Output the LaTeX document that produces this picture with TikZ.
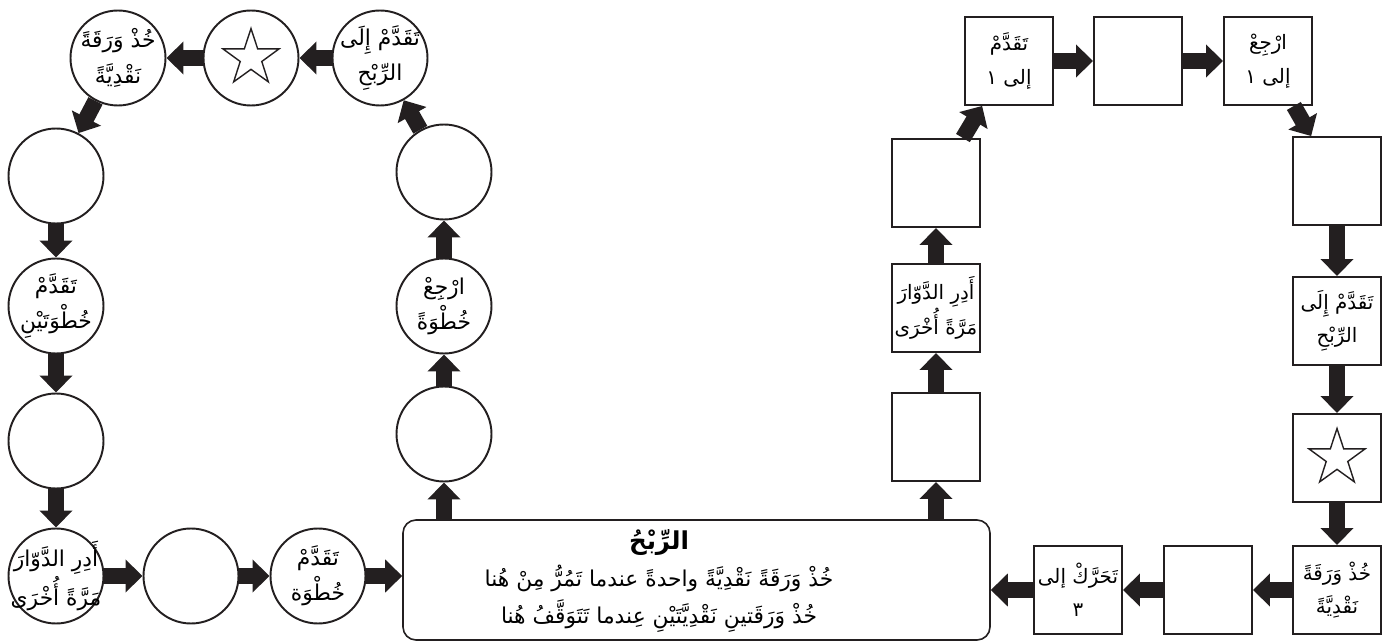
\documentclass[tikz,border=0pt]{standalone}
\usepackage{fontspec}
\usepackage{tikz}
\usetikzlibrary{positioning,shapes.geometric,arrows.meta}
\TeXXeTstate=1
\newfontfamily\arabicfont[Script=Arabic]{DejaVu Sans}
\newcommand{\arl}[1]{\beginR #1\endR}
% zero-width line, so the circle keeps its size
\newcommand{\arz}[1]{\makebox[0pt]{\beginR #1\endR}}
\definecolor{InkBlack}{HTML}{231F20}
\tikzset{
  cellC/.style={circle,draw=InkBlack,line width=1.1pt,fill=white,
    minimum size=1.9cm,inner sep=0pt,
    font=\arabicfont\fontsize{12.4}{20}\selectfont,align=center},
  cellS/.style={rectangle,draw=InkBlack,line width=1.1pt,fill=white,
    minimum size=1.76cm,inner sep=0pt,
    font=\arabicfont\fontsize{11.3}{19}\selectfont,align=center},
  hubbox/.style={draw=InkBlack,line width=0.9pt,rounded corners=0.26cm,
    minimum width=11.74cm,minimum height=2.40cm},
  hubtext/.style={font=\arabicfont\fontsize{12.4}{21}\selectfont,
    align=center,inner sep=0pt},
  starmark/.style={star,star points=5,star point ratio=2.6,draw=InkBlack,
    line width=0.8pt,minimum size=1.18cm,inner sep=0pt},
  flow/.style={line width=0.32cm,draw=InkBlack,
    -{Triangle[width=0.64cm,length=0.34cm]}},
}
\begin{document}
\begin{tikzpicture}
  \useasboundingbox (0,0) rectangle (27.64,12.84);
  % central box
  \node[hubbox] (hub) at (13.93,1.24) {};
  \node[hubtext] (hubtxt) at (13.18,1.22)
    {{\fontsize{14}{21}\selectfont\bfseries\arl{الرِّبْحُ}}\\
     \arl{خُذْ وَرَقَةً نَقْدِيَّةً واحدةً عندما تَمُرُّ مِنْ هُنا}\\
     \arl{خُذْ وَرَقَتينِ نَقْدِيَّتَيْنِ عِندما تَتَوَقَّفُ هُنا}};
  % circle track
  \node[cellC] (c1) at (8.88,4.16) {};
  \node[cellC] (c2) at (8.88,6.72) {\arz{ارْجِعْ}\\\arz{خُطْوَةً}};
  \node[cellC] (c3) at (8.88,9.40) {};
  \node[cellC] (c4) at (7.60,11.68) {\arz{تَقَدَّمْ إِلَى}\\\arz{الرِّبْحِ}};
  \node[cellC] (c5) at (5.02,11.68) {};
  \node[starmark] (c5star) at (c5.center) {};
  \node[cellC] (c6) at (2.36,11.68) {\arz{خُذْ وَرَقَةً}\\\arz{نَقْدِيَّةً}};
  \node[cellC] (c7) at (1.12,9.32) {};
  \node[cellC] (c8) at (1.12,6.72) {\arz{تَقَدَّمْ}\\\arz{خُطْوَتَيْنِ}};
  \node[cellC] (c9) at (1.12,4.02) {};
  \node[cellC] (c10) at (1.12,1.32) {\arz{أَدِرِ الدَّوّارَ}\\\arz{مَرَّةً أُخْرَى}};
  \node[cellC] (c11) at (3.82,1.32) {};
  \node[cellC] (c12) at (6.36,1.32) {\arz{تَقَدَّمْ}\\\arz{خُطْوَة}};
  % square track
  \node[cellS] (s1) at (18.72,4.10) {};
  \node[cellS] (s2) at (18.72,6.68) {\arz{أَدِرِ الدَّوّارَ}\\\arz{مَرَّةً أُخْرَى}};
  \node[cellS] (s3) at (18.72,9.18) {};
  \node[cellS] (s4) at (20.18,11.62) {\arz{تَقَدَّمْ}\\\arz{إلى ١}};
  \node[cellS] (s5) at (22.76,11.62) {};
  \node[cellS] (s6) at (25.36,11.62) {\arz{ارْجِعْ}\\\arz{إلى ١}};
  \node[cellS] (s7) at (26.74,9.22) {};
  \node[cellS] (s8) at (26.74,6.42) {\arz{تَقَدَّمْ إِلَى}\\\arz{الرِّبْحِ}};
  \node[cellS] (s9) at (26.74,3.68) {};
  \node[starmark] (s9star) at (s9.center) {};
  \node[cellS] (s10) at (26.74,1.04) {\arz{خُذْ وَرَقَةً}\\\arz{نَقْدِيَّةً}};
  \node[cellS] (s11) at (24.16,1.04) {};
  \node[cellS] (s12) at (21.56,1.04) {\arz{تَحَرَّكْ إلى}\\\arz{٣}};
  % arrows, circle track
  \draw[flow] (hub.north -| c1) -- (c1);
  \draw[flow] (c1) -- (c2);
  \draw[flow] (c2) -- (c3);
  \draw[flow] (c3) -- (c4);
  \draw[flow] (c4) -- (c5);
  \draw[flow] (c5) -- (c6);
  \draw[flow] (c6) -- (c7);
  \draw[flow] (c7) -- (c8);
  \draw[flow] (c8) -- (c9);
  \draw[flow] (c9) -- (c10);
  \draw[flow] (c10) -- (c11);
  \draw[flow] (c11) -- (c12);
  \draw[flow] (c12) -- (c12 -| hub.west);
  % arrows, square track
  \draw[flow] (hub.north -| s1) -- (s1);
  \draw[flow] (s1) -- (s2);
  \draw[flow] (s2) -- (s3);
  \draw[flow] (s3) -- (s4);
  \draw[flow] (s4) -- (s5);
  \draw[flow] (s5) -- (s6);
  \draw[flow] (s6) -- (s7);
  \draw[flow] (s7) -- (s8);
  \draw[flow] (s8) -- (s9);
  \draw[flow] (s9) -- (s10);
  \draw[flow] (s10) -- (s11);
  \draw[flow] (s11) -- (s12);
  \draw[flow] (s12) -- (s12 -| hub.east);
\end{tikzpicture}
\end{document}
